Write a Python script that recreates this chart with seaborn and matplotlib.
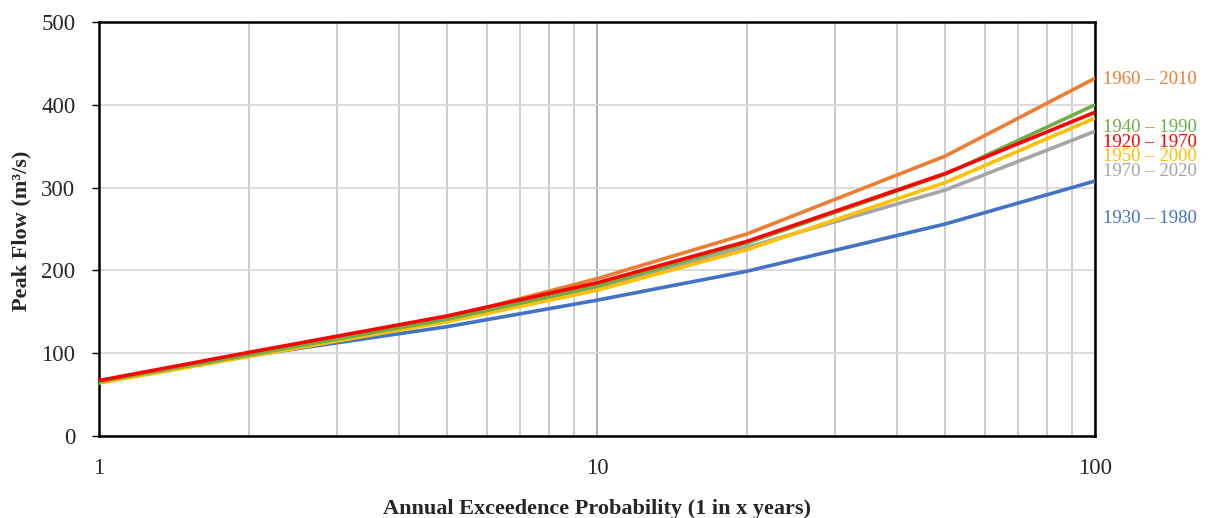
import matplotlib
matplotlib.use("Agg")
import matplotlib.pyplot as plt
from matplotlib.ticker import FixedLocator, NullFormatter
import seaborn as sns
import pandas as pd

return_periods = [1, 2, 5, 10, 20, 50, 100]
series_names = ["1960 – 2010", "1940 – 1990", "1920 – 1970", "1950 – 2000", "1970 – 2020", "1930 – 1980"]
flow_1960_2010 = [66, 98, 143, 190, 244, 338, 432]
flow_1940_1990 = [66, 98, 141, 181, 233, 316, 400]
flow_1920_1970 = [67, 101, 145, 185, 235, 317, 391]
flow_1950_2000 = [64, 96, 138, 176, 225, 306, 384]
flow_1970_2020 = [66, 98, 140, 179, 228, 297, 368]
flow_1930_1980 = [66, 97, 132, 164, 199, 256, 308]
colors = ["#ED7D31", "#70AD47", "#FF0000", "#FFC000", "#A5A5A5", "#4472C4"]
label_y = [431, 373, 355, 337, 319, 263]
y_ticks = [0, 100, 200, 300, 400, 500]
x_tick_labels = ["1", "10", "100"]

series_values = [flow_1960_2010, flow_1940_1990, flow_1920_1970,
                 flow_1950_2000, flow_1970_2020, flow_1930_1980]
rows = []
for name, vals in zip(series_names, series_values):
    for x, v in zip(return_periods, vals):
        rows.append({"x": x, "flow": v, "period": name})
df = pd.DataFrame(rows)

sns.set_theme(style="white")
plt.rcParams["font.family"] = ["Liberation Serif", "DejaVu Serif"]

fig, ax = plt.subplots(figsize=(12.08, 5.18), dpi=100)
fig.subplots_adjust(left=99/1208, right=1095/1208, top=1-22/518, bottom=1-436/518)

order = ["1930 – 1980", "1970 – 2020", "1950 – 2000", "1960 – 2010", "1940 – 1990", "1920 – 1970"]
pal = dict(zip(series_names, colors))
for name in order:
    sub = df[df["period"] == name]
    sns.lineplot(data=sub, x="x", y="flow", color=pal[name], linewidth=2.6,
                 ax=ax, legend=False, zorder=3)

ax.set_xscale("log")
ax.set_xlim(1, 100)
ax.set_ylim(0, 500)
ax.set_yticks(y_ticks)
ax.set_yticklabels([str(t) for t in y_ticks], fontsize=16.5)
ax.xaxis.set_major_locator(FixedLocator([1, 10, 100]))
ax.set_xticklabels(x_tick_labels, fontsize=16.5)
minor = [m * d for d in (1, 10) for m in range(2, 10)]
ax.xaxis.set_minor_locator(FixedLocator(minor))
ax.xaxis.set_minor_formatter(NullFormatter())

ax.grid(True, which="major", axis="x", color="#A6A6A6", linewidth=1.3)
ax.grid(True, which="minor", axis="x", color="#C8C8C8", linewidth=1.3)
ax.grid(True, which="major", axis="y", color="#D9D9D9", linewidth=1.3)
ax.set_axisbelow(True)

for s in ax.spines.values():
    s.set_color("black")
    s.set_linewidth(1.8)

ax.tick_params(axis="x", which="both", length=0, pad=16)
ax.tick_params(axis="y", which="major", length=5, width=1, color="black", direction="out", pad=12, left=True)

ax.set_xlabel("Annual Exceedence Probability (1 in x years)", fontsize=16, fontweight="bold", labelpad=14)
ax.set_ylabel("Peak Flow (m³/s)", fontsize=16, fontweight="bold")
ax.yaxis.set_label_coords(-0.068, 0.495)

for name, c, ly in zip(series_names, colors, label_y):
    ax.text(1.008, ly, name, transform=ax.get_yaxis_transform(), color=c,
            fontsize=13.5, va="center", ha="left", clip_on=False)

fig.savefig("out.png", dpi=100)
